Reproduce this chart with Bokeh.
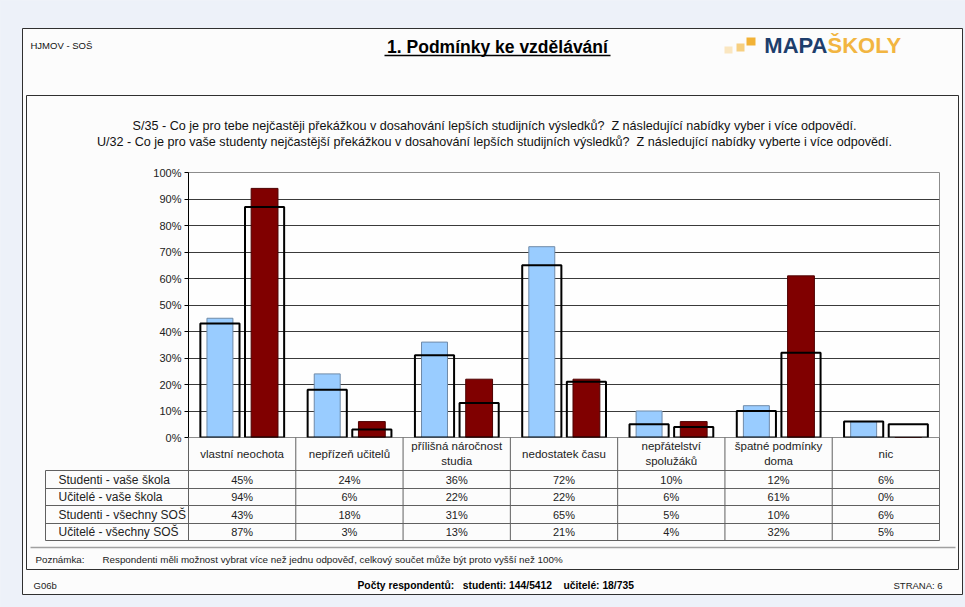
from bokeh.plotting import figure
from bokeh.models import (ColumnDataSource, FactorRange, Range1d, FixedTicker,
                          PrintfTickFormatter, GlobalInlineStyleSheet)
from bokeh.transform import dodge
from bokeh.core.properties import value
from bokeh.embed import file_html
from bokeh.resources import INLINE

# ---------------- data ----------------
categories = ["vlastní neochota", "nepřízeň učitelů", "přílišná náročnost studia",
              "nedostatek času", "nepřátelství spolužáků", "špatné podmínky doma", "nic"]
category_labels = ["vlastní neochota", "nepřízeň učitelů", "přílišná náročnost\nstudia",
                   "nedostatek času", "nepřátelství\nspolužáků", "špatné podmínky\ndoma", "nic"]
studenti_skola = [45, 24, 36, 72, 10, 12, 6]
ucitele_skola = [94, 6, 22, 22, 6, 61, 0]
studenti_vsechny = [43, 18, 31, 65, 5, 10, 6]
ucitele_vsechny = [87, 3, 13, 21, 4, 32, 5]
series_names = ["Studenti - vaše škola", "Učitelé - vaše škola",
                "Studenti - všechny SOŠ", "Učitelé - všechny SOŠ"]
y_ticks = [0, 10, 20, 30, 40, 50, 60, 70, 80, 90, 100]

FONT = value("Liberation Sans")
BLUE = "#99ccff"
RED = "#800000"
PAGE_BG = "#edf1f9"
NB = "\u00a0"

W, H = 965, 607
# plot frame in page pixels
FL, FR, FT, FB = 188, 939, 172, 437
CAT_W = (FR - FL) / len(categories)


def fx(xs):
    """page-pixel x -> synthetic categorical coordinate"""
    return [(x - FL) / CAT_W for x in xs]


src = ColumnDataSource(dict(
    cat=categories, label=category_labels,
    s1=studenti_skola, u1=ucitele_skola, s2=studenti_vsechny, u2=ucitele_vsechny,
    s1t=[f"{v}%" for v in studenti_skola], u1t=[f"{v}%" for v in ucitele_skola],
    s2t=[f"{v}%" for v in studenti_vsechny], u2t=[f"{v}%" for v in ucitele_vsechny],
))

p = figure(width=W, height=H, x_range=FactorRange(*categories, range_padding=0),
           y_range=Range1d(0, 100), x_axis_location=None,
           min_border_left=FL, min_border_right=W - FR,
           min_border_top=FT, min_border_bottom=H - FB,
           output_backend="svg", toolbar_location=None)
p.stylesheets = [GlobalInlineStyleSheet(css=f"body{{background-color:{PAGE_BG};}}")]
p.border_fill_color = "#fcfcfc"
p.background_fill_color = "#fefefe"
p.outline_line_color = "#8c8c8c"
p.outline_line_width = 1

# page-pixel y range for decorations outside the plot frame
p.extra_y_ranges = {"px": Range1d(FB, FT)}
PX = dict(y_range_name="px", level="overlay")

# axes / grid
ax = p.yaxis[0]
ax.ticker = FixedTicker(ticks=y_ticks)
ax.formatter = PrintfTickFormatter(format="%d%%")
ax.major_label_text_font = "Liberation Sans"
ax.major_label_text_font_size = "11px"
ax.major_label_text_color = "#222222"
ax.axis_line_color = "#000000"
ax.major_tick_line_color = "#000000"
ax.major_tick_out = 4
ax.major_tick_in = 0
ax.minor_tick_line_color = None
ax.major_label_standoff = 3
p.ygrid.ticker = FixedTicker(ticks=y_ticks)
p.ygrid.grid_line_color = "#3a3a3a"
p.ygrid.grid_line_width = 1
p.xgrid.grid_line_color = None

# bars
p.vbar(x=dodge("cat", -0.207, range=p.x_range), top="s1", width=0.242, source=src,
       fill_color=BLUE, line_color="#6f8aa8", line_width=1)
p.vbar(x=dodge("cat", 0.209, range=p.x_range), top="u1", width=0.25, source=src,
       fill_color=RED, line_color="#4d0000", line_width=1)
p.vbar(x=dodge("cat", -0.207, range=p.x_range), top="s2", width=0.365, source=src,
       fill_alpha=0, line_color="#000000", line_width=2)
p.vbar(x=dodge("cat", 0.209, range=p.x_range), top="u2", width=0.365, source=src,
       fill_alpha=0, line_color="#000000", line_width=2)

# ---------------- page decorations ----------------
p.quad(left=fx([0, 0, 0, 962]), right=fx([W, W, 22, W]), top=[0, 594, 0, 0],
       bottom=[28, H, H, H], fill_color=PAGE_BG, line_color=None, **PX)
p.quad(left=fx([22, 26]), right=fx([962, 958]), top=[28, 95], bottom=[594, 569],
       fill_alpha=0, line_color="#303030", line_width=1, **PX)
p.segment(x0=fx([30]), y0=[547], x1=fx([955]), y1=[547], line_color="#a0a0a0",
          line_width=1.5, **PX)

# header
p.text(x=fx([30]), y=[45], text=["HJMOV - SOŠ"], text_font=FONT, text_font_size="9.5px",
       text_color="#111111", text_baseline="middle", text_align="left", **PX)
p.text(x=fx([497]), y=[46], text=["1. Podmínky ke vzdělávání"], text_font=FONT,
       text_font_size="17.5px", text_font_style="bold", text_color="#000000",
       text_baseline="middle", text_align="center", **PX)
p.segment(x0=fx([384]), y0=[55], x1=fx([610]), y1=[55], line_color="#000000",
          line_width=1.5, **PX)
# logo
p.quad(left=fx([724, 736, 746]), right=fx([732, 744, 755]), top=[46, 43, 37],
       bottom=[53, 51, 45], fill_color=["#fae6c0", "#f6cf80", "#f2b236"],
       line_color=None, **PX)
p.text(x=fx([827]), y=[45], text=["MAPA"], text_font=FONT, text_font_size="22px",
       text_font_style="bold", text_color="#1d3e6c", text_baseline="middle",
       text_align="right", **PX)
p.text(x=fx([827]), y=[45], text=["ŠKOLY"], text_font=FONT, text_font_size="22px",
       text_font_style="bold", text_color="#f2b541", text_baseline="middle",
       text_align="left", **PX)

# question texts
p.text(x=fx([494, 494]), y=[125, 141],
       text=["S/35 - Co je pro tebe nejčastěji překážkou v dosahování lepších studijních výsledků?" + NB + " Z následující nabídky vyber i více odpovědí.",
             "U/32 - Co je pro vaše studenty nejčastější překážkou v dosahování lepších studijních výsledků?" + NB + " Z následující nabídky vyberte i více odpovědí."],
       text_font=FONT, text_font_size="12.6px", text_color="#111111",
       text_baseline="middle", text_align="center", **PX)

# ---------------- data table ----------------
row_y = [479, 496.5, 514, 531.5]
p.segment(x0=fx([45, 45, 45, 45, 45, 939, 45]), y0=[470, 488, 505, 523, 540, 437, 470],
          x1=fx([939, 939, 939, 939, 939, 939, 45]), y1=[470, 488, 505, 523, 540, 540, 540],
          line_color="#606060", line_width=1, **PX)
p.segment(x0=dodge("cat", -0.5, range=p.x_range), y0=437,
          x1=dodge("cat", -0.5, range=p.x_range), y1=540, source=src,
          line_color="#606060", line_width=1, **PX)
p.text(x="cat", y=453, text="label", source=src, text_font=FONT, text_font_size="11.5px",
       text_color="#222222", text_align="center", text_baseline="middle",
       text_line_height=1.2, **PX)
for col, yy in zip(["s1t", "u1t", "s2t", "u2t"], row_y):
    p.text(x="cat", y=yy, text=col, source=src, text_font=FONT, text_font_size="11px",
           text_color="#222222", text_align="center", text_baseline="middle", **PX)

# legend column
p.scatter(x=fx([51.5] * 4), y=row_y, marker="square", size=7,
          fill_color=[BLUE, RED, "#ffffff", "#ffffff"],
          line_color=["#334455", RED, "#000000", "#000000"],
          line_width=[1, 1, 2, 2], **PX)
p.text(x=fx([58] * 4), y=row_y, text=series_names, text_font=FONT, text_font_size="12px",
       text_color="#222222", text_align="left", text_baseline="middle", **PX)

# note & footer
p.text(x=fx([35, 102]), y=[559, 559],
       text=["Poznámka:", "Respondenti měli možnost vybrat více než jednu odpověď, celkový součet může být proto vyšší než 100%"],
       text_font=FONT, text_font_size="9.8px", text_color="#222222",
       text_align="left", text_baseline="middle", **PX)
p.text(x=fx([33, 893]), y=[585, 585], text=["G06b", "STRANA: 6"], text_font=FONT,
       text_font_size="9.5px", text_color="#222222", text_align="left",
       text_baseline="middle", **PX)
p.text(x=fx([357]), y=[585],
       text=["Počty respondentů:" + NB * 3 + "studenti: 144/5412" + NB * 4 + "učitelé: 18/735"],
       text_font=FONT, text_font_size="10.3px", text_font_style="bold", text_color="#000000",
       text_align="left", text_baseline="middle", **PX)

open("out.html", "w").write(file_html(p, INLINE))
